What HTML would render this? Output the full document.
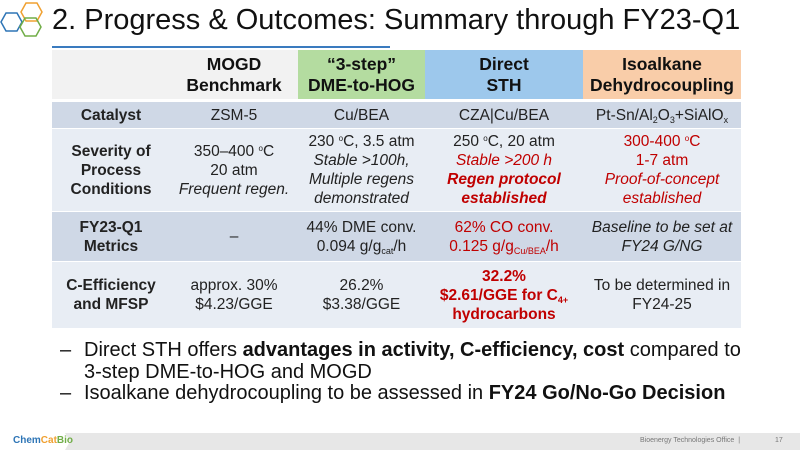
<!DOCTYPE html>
<html><head><meta charset="utf-8"><style>
*{margin:0;padding:0;box-sizing:border-box}
body{width:800px;height:450px;background:#fff;font-family:"Liberation Sans",Arial,sans-serif;position:relative;overflow:hidden;color:#222}
.t{position:absolute;left:52px;top:4px;font-size:29px;color:#111;white-space:nowrap}
.line{position:absolute;left:52px;top:46px;width:338px;height:2px;background:#3a7bbf}
.c{position:absolute;display:flex;flex-direction:column;justify-content:center;align-items:center;text-align:center;font-size:15.5px;line-height:19px;white-space:nowrap}
.b{font-weight:bold}
.h{font-size:17.5px;font-weight:bold;line-height:21px;color:#111}
.r{color:#c00000}
i{font-style:italic}
sub{font-size:9px;vertical-align:-3px;line-height:0}
sup{font-size:8px;vertical-align:5px;line-height:0}
.bul{position:absolute;left:62px;font-size:20px;line-height:21.5px;color:#111;white-space:nowrap}
.bul span{position:absolute}
</style></head><body>
<svg style="position:absolute;left:0;top:0" width="46" height="46" viewBox="0 0 46 46">
<polygon points="21,12 26,3 37,3 42,12 37,21 26,21" fill="none" stroke="#f0a030" stroke-width="1.5"/>
<polygon points="1,22 6,13 17,13 22,22 17,31 6,31" fill="none" stroke="#2e75b6" stroke-width="1.5"/>
<polygon points="21,31 26,22 37,22 42,31 37,40 26,40" fill="none" stroke="#70ad47" stroke-width="1.5" transform="translate(-1,-4)"/>
</svg>
<div class="t">2. Progress &amp; Outcomes: Summary through FY23-Q1</div>
<div class="line"></div>

<div class="c h" style="left:52px;top:50px;width:246px;height:49px;background:#f2f2f2;padding-left:118px">MOGD<br>Benchmark</div>
<div class="c h" style="left:298px;top:50px;width:127px;height:49px;background:#b4dca0">“3-step”<br>DME-to-HOG</div>
<div class="c h" style="left:425px;top:50px;width:158px;height:49px;background:#9dc8ec">Direct<br>STH</div>
<div class="c h" style="left:583px;top:50px;width:158px;height:49px;background:#f9cda9">Isoalkane<br>Dehydrocoupling</div>

<div style="position:absolute;left:52px;top:102px;width:689px;height:26px;background:#cfd8e6"></div>
<div style="position:absolute;left:52px;top:129px;width:689px;height:82px;background:#e8edf4"></div>
<div style="position:absolute;left:52px;top:212px;width:689px;height:49px;background:#cfd8e6"></div>
<div style="position:absolute;left:52px;top:262px;width:689px;height:66px;background:#e8edf4"></div>

<div class="c b" style="left:52px;top:102px;width:118px;height:26px">Catalyst</div>
<div class="c" style="left:170px;top:102px;width:128px;height:26px">ZSM-5</div>
<div class="c" style="left:298px;top:102px;width:127px;height:26px">Cu/BEA</div>
<div class="c" style="left:425px;top:102px;width:158px;height:26px">CZA|Cu/BEA</div>
<div class="c" style="left:583px;top:102px;width:158px;height:26px"><div>Pt-Sn/Al<sub>2</sub>O<sub>3</sub>+SiAlO<sub>x</sub></div></div>

<div class="c b" style="left:52px;top:129px;width:118px;height:82px">Severity of<br>Process<br>Conditions</div>
<div class="c" style="left:170px;top:129px;width:128px;height:82px"><div>350–400 <sup>o</sup>C<br>20 atm<br><i>Frequent regen.</i></div></div>
<div class="c" style="left:298px;top:129px;width:127px;height:82px"><div>230 <sup>o</sup>C, 3.5 atm<br><i>Stable &gt;100h,<br>Multiple regens<br>demonstrated</i></div></div>
<div class="c" style="left:425px;top:129px;width:158px;height:82px"><div>250 <sup>o</sup>C, 20 atm<br><i class="r">Stable &gt;200 h</i><br><b class="r"><i>Regen protocol<br>established</i></b></div></div>
<div class="c r" style="left:583px;top:129px;width:158px;height:82px"><div>300-400 <sup>o</sup>C<br>1-7 atm<br><i>Proof-of-concept<br>established</i></div></div>

<div class="c b" style="left:52px;top:212px;width:118px;height:49px">FY23-Q1<br>Metrics</div>
<div class="c" style="left:170px;top:212px;width:128px;height:49px">–</div>
<div class="c" style="left:298px;top:212px;width:127px;height:49px"><div>44% DME conv.<br>0.094 g/g<sub>cat</sub>/h</div></div>
<div class="c r" style="left:425px;top:212px;width:158px;height:49px"><div>62% CO conv.<br>0.125 g/g<sub>Cu/BEA</sub>/h</div></div>
<div class="c" style="left:583px;top:212px;width:158px;height:49px"><i>Baseline to be set at<br>FY24 G/NG</i></div>

<div class="c b" style="left:52px;top:262px;width:118px;height:66px">C-Efficiency<br>and MFSP</div>
<div class="c" style="left:170px;top:262px;width:128px;height:66px">approx. 30%<br>$4.23/GGE</div>
<div class="c" style="left:298px;top:262px;width:127px;height:66px">26.2%<br>$3.38/GGE</div>
<div class="c b r" style="left:425px;top:262px;width:158px;height:66px"><div>32.2%<br>$2.61/GGE for C<sub>4+</sub><br>hydrocarbons</div></div>
<div class="c" style="left:583px;top:262px;width:158px;height:66px">To be determined in<br>FY24-25</div>

<div class="bul" style="top:340px;left:84px"><span style="left:-24px">–</span>Direct STH offers <b>advantages in activity, C-efficiency, cost</b> compared to<br>3-step DME-to-HOG and MOGD</div>
<div class="bul" style="top:383px;left:84px"><span style="left:-24px">–</span>Isoalkane dehydrocoupling to be assessed in <b>FY24 Go/No-Go Decision</b></div>

<div style="position:absolute;left:0;top:433px;width:800px;height:17px;background:#e7e7e7"></div>
<div style="position:absolute;left:0;top:433px;width:70px;height:17px;background:#fff;clip-path:polygon(0 0,65px 0,70px 50%,65px 100%,0 100%)"></div>
<div style="position:absolute;left:13px;top:435px;font-size:10px;font-weight:bold;color:#2e75b6">Chem<span style="color:#f0a030">Cat</span><span style="color:#70ad47">Bio</span></div>
<div style="position:absolute;left:640px;top:437px;font-size:7px;color:#777">Bioenergy Technologies Office &nbsp;|</div>
<div style="position:absolute;left:775px;top:437px;font-size:7px;color:#777">17</div>
</body></html>
